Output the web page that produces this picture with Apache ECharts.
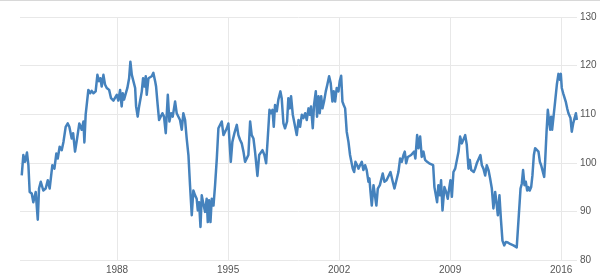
<!DOCTYPE html>
<html>
<head>
<meta charset="utf-8">
<script src="https://cdn.jsdelivr.net/npm/echarts@6/dist/echarts.min.js"></script>
<style>
html,body{margin:0;padding:0;background:#fff;}
#chart{width:600px;height:276px;}
</style>
</head>
<body>
<div id="chart"></div>
<script>
// decimal-year positions of the readings
const years = [
1981.99,1982.09,1982.20,1982.32,1982.41,1982.49,1982.62,1982.72,1982.87,1983.00,
1983.08,1983.19,1983.35,1983.50,1983.63,1983.75,1983.92,1984.05,1984.17,1984.26,
1984.38,1984.51,1984.62,1984.76,1984.89,1984.99,1985.14,1985.23,1985.35,1985.48,
1985.62,1985.77,1985.88,1985.94,1986.02,1986.11,1986.19,1986.30,1986.40,1986.51,
1986.65,1986.76,1986.86,1986.95,1987.03,1987.14,1987.24,1987.35,1987.50,1987.62,
1987.77,1987.87,1987.98,1988.08,1988.19,1988.29,1988.36,1988.44,1988.55,1988.65,
1988.76,1988.84,1988.93,1989.03,1989.14,1989.20,1989.30,1989.39,1989.47,1989.56,
1989.64,1989.72,1989.81,1989.87,1989.98,1990.10,1990.19,1990.29,1990.40,1990.46,
1990.56,1990.65,1990.77,1990.86,1990.96,1991.07,1991.20,1991.30,1991.41,1991.51,
1991.66,1991.76,1991.87,1991.97,1992.08,1992.18,1992.29,1992.39,1992.50,1992.60,
1992.71,1992.81,1992.92,1993.02,1993.09,1993.17,1993.26,1993.34,1993.44,1993.55,
1993.65,1993.72,1993.80,1993.89,1993.97,1994.08,1994.18,1994.29,1994.39,1994.50,
1994.60,1994.71,1994.81,1994.92,1995.02,1995.17,1995.27,1995.40,1995.55,1995.65,
1995.76,1995.86,1995.97,1996.07,1996.18,1996.28,1996.39,1996.49,1996.60,1996.70,
1996.85,1996.96,1997.06,1997.17,1997.29,1997.40,1997.50,1997.61,1997.71,1997.80,
1997.88,1997.96,1998.07,1998.17,1998.30,1998.38,1998.49,1998.59,1998.72,1998.80,
1998.89,1998.97,1999.08,1999.18,1999.33,1999.44,1999.54,1999.65,1999.75,1999.86,
1999.96,2000.07,2000.15,2000.23,2000.34,2000.42,2000.53,2000.61,2000.70,2000.78,
2000.87,2000.95,2001.05,2001.16,2001.26,2001.37,2001.47,2001.58,2001.66,2001.75,
2001.85,2001.96,2002.04,2002.13,2002.21,2002.29,2002.38,2002.48,2002.59,2002.69,
2002.80,2002.86,2002.95,2003.03,2003.14,2003.22,2003.32,2003.43,2003.53,2003.64,
2003.74,2003.85,2003.91,2003.98,2004.06,2004.17,2004.27,2004.35,2004.44,2004.57,
2004.69,2004.75,2004.86,2004.99,2005.11,2005.24,2005.36,2005.49,2005.59,2005.74,
2005.85,2005.95,2006.06,2006.14,2006.23,2006.33,2006.44,2006.54,2006.65,2006.73,
2006.81,2006.92,2007.00,2007.11,2007.21,2007.32,2007.42,2007.55,2007.68,2007.80,
2007.93,2008.01,2008.12,2008.18,2008.26,2008.35,2008.43,2008.52,2008.64,2008.75,
2008.85,2008.94,2009.02,2009.11,2009.21,2009.32,2009.42,2009.53,2009.63,2009.74,
2009.84,2009.95,2010.05,2010.16,2010.24,2010.33,2010.41,2010.49,2010.58,2010.68,
2010.79,2010.91,2011.00,2011.10,2011.21,2011.31,2011.42,2011.52,2011.63,2011.73,
2011.84,2011.92,2012.01,2012.11,2012.20,2012.30,2012.41,2012.51,2012.64,2012.78,
2012.89,2012.99,2013.10,2013.20,2013.31,2013.37,2013.44,2013.52,2013.60,2013.69,
2013.77,2013.86,2013.94,2014.02,2014.11,2014.19,2014.28,2014.36,2014.47,2014.57,
2014.66,2014.74,2014.82,2014.93,2014.99,2015.08,2015.16,2015.24,2015.31,2015.37,
2015.43,2015.52,2015.62,2015.73,2015.83,2015.92,2015.98,2016.04,2016.13,2016.21,
2016.29,2016.38,2016.46,2016.53,2016.59,2016.67,2016.76,2016.84,2016.93,2016.99
];
const values = [
97.4,101.6,100.2,102.1,99.5,94.0,93.7,91.9,94.0,88.3,
94.7,96.1,94.3,94.7,96.4,94.7,99.5,98.8,101.9,100.9,
103.3,102.6,104.3,107.4,108.1,107.4,105.0,106.1,102.3,105.0,
108.1,106.8,108.5,104.2,109.9,110.2,115.0,114.3,114.8,114.3,
114.7,118.1,116.8,117.4,115.7,118.1,116.1,115.4,115.0,113.3,
112.8,113.0,114.0,112.8,115.0,111.6,114.3,113.0,114.3,115.4,
117.4,120.8,118.1,117.8,115.4,111.6,109.5,111.6,111.2,114.7,
117.4,115.7,117.8,114.0,117.4,117.1,117.8,118.5,116.8,115.7,
111.9,108.8,108.5,110.2,109.5,106.1,114.0,108.5,110.2,109.5,
112.6,110.2,109.9,108.8,106.8,110.2,108.8,105.0,101.6,95.4,
89.2,94.3,93.3,92.6,90.2,91.9,86.8,93.3,91.6,89.9,
92.6,87.8,92.3,87.8,92.6,91.2,95.4,100.9,107.1,107.4,
108.5,105.7,106.1,107.1,108.1,100.2,104.3,106.1,107.8,105.7,
104.7,104.0,102.3,100.2,100.2,101.6,108.5,105.7,105.0,102.3,
97.3,101.6,101.9,102.6,101.6,99.9,105.0,110.9,110.2,110.9,
107.4,111.9,110.6,113.0,114.7,113.3,108.1,107.1,108.5,113.3,
111.2,113.7,109.9,109.5,105.7,108.8,107.4,109.9,109.2,110.2,
108.8,111.2,109.9,111.6,107.1,111.9,114.7,109.5,113.7,110.2,
113.7,111.2,112.6,114.7,116.1,117.8,116.4,112.6,114.7,112.6,
115.4,114.7,116.8,117.9,112.6,111.9,111.2,106.4,104.3,101.6,
101.6,98.8,98.1,100.2,99.5,98.8,99.5,100.2,98.5,99.5,
98.5,96.1,96.8,94.0,91.2,95.4,95.4,91.2,94.7,95.4,
95.7,97.8,96.1,96.4,96.8,98.1,96.4,94.7,94.7,98.1,
100.9,100.2,101.6,102.3,99.9,101.2,100.9,101.6,101.9,102.3,
100.9,105.7,103.0,105.4,101.2,102.3,100.6,100.2,99.9,99.5,
99.5,95.0,94.7,91.9,95.4,93.3,96.4,90.2,95.0,94.0,
92.6,94.7,96.4,93.0,98.1,98.8,98.8,102.3,105.4,104.0,
104.3,105.7,103.7,98.8,100.6,98.5,98.8,98.1,98.8,99.9,
100.2,101.6,99.5,98.8,97.4,99.5,98.5,96.8,94.7,90.6,
94.0,91.9,89.2,93.3,88.5,84.0,83.0,83.7,83.6,83.3,
83.7,83.0,83.3,82.6,83.0,91.2,94.7,95.7,98.5,95.4,
96.1,94.3,95.0,94.3,95.0,97.4,101.6,103.0,103.3,102.3,
100.2,99.5,98.5,97.1,100.2,106.4,110.9,108.5,106.8,109.5,
106.8,109.5,112.6,116.1,118.3,117.1,118.3,115.4,114.3,114.0,
112.6,111.2,110.2,110.6,109.2,106.4,108.1,108.1,110.2,108.8
];
const xTickLabels = [1988, 1995, 2002, 2009, 2016];
const yTickLabels = [80, 90, 100, 110, 120, 130];

const chart = echarts.init(document.getElementById('chart'), null, {renderer: 'canvas'});
const labelFont = {color: '#555', fontSize: 10, fontFamily: 'Liberation Sans, Arial, sans-serif'};
chart.setOption({
  animation: false,
  backgroundColor: '#fff',
  grid: {left: 20, right: 23, top: 17, bottom: 16, containLabel: false},
  graphic: [{type: 'rect', shape: {x: 0, y: 0, width: 600, height: 1}, style: {fill: '#d8d8d8'}}],
  xAxis: {
    type: 'value',
    min: 1981.88,
    max: 2017.0,
    axisLine: {show: false},
    axisTick: {show: false, customValues: xTickLabels},
    axisLabel: Object.assign({customValues: xTickLabels, margin: 5, formatter: v => String(Math.round(v))}, labelFont),
    splitLine: {show: true, lineStyle: {color: '#e8e8e8', width: 1}}
  },
  yAxis: {
    type: 'value',
    position: 'right',
    min: yTickLabels[0],
    max: yTickLabels[yTickLabels.length - 1],
    interval: 10,
    axisLine: {show: false},
    axisTick: {show: false},
    axisLabel: Object.assign({margin: 3}, labelFont),
    splitLine: {lineStyle: {color: '#e8e8e8', width: 1}}
  },
  series: [{
    type: 'line',
    data: years.map((y, i) => [y, values[i]]),
    showSymbol: false,
    symbol: 'none',
    lineStyle: {color: '#4582bd', width: 2.5, join: 'round'},
    itemStyle: {color: '#4582bd'}
  }]
});
</script>
</body>
</html>
